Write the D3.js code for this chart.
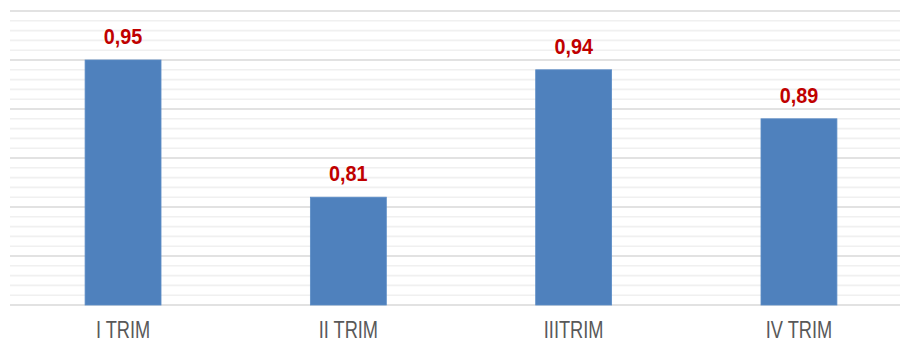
<!DOCTYPE html>
<html>
<head>
<meta charset="utf-8">
<script src="https://cdn.jsdelivr.net/npm/d3@7"></script>
<style>
  html, body { margin: 0; padding: 0; background: #ffffff; }
  svg { display: block; }
</style>
</head>
<body>
<svg id="chart" width="900" height="343"></svg>
<script>
// Quarterly values
const categories = ["I TRIM", "II TRIM", "IIITRIM", "IV TRIM"];
const values = [0.95, 0.81, 0.94, 0.89];
const valueLabels = ["0,95", "0,81", "0,94", "0,89"];

const W = 900, H = 343;
const svg = d3.select("#chart");

const plot = { left: 10.4, right: 911.6, top: 11, bottom: 305 };

const x = d3.scaleBand()
  .domain(categories)
  .range([plot.left, plot.right])
  .paddingInner(0.663)
  .paddingOuter(0.3315);

const y = d3.scaleLinear()
  .domain([0.70, 1.00])
  .range([plot.bottom, plot.top]);

// Minor gridlines every 0.01
const minorTicks = d3.range(70, 101, 1).map(d => d / 100).filter(d => Math.round(d * 100) % 5 !== 0);
svg.append("g")
  .selectAll("line")
  .data(minorTicks)
  .join("line")
  .attr("x1", 10).attr("x2", W)
  .attr("y1", d => y(d)).attr("y2", d => y(d))
  .attr("stroke", "#f0f0f0")
  .attr("stroke-width", 1.6);

// Major gridlines every 0.05
const majorTicks = d3.range(70, 101, 5).map(d => d / 100);
svg.append("g")
  .selectAll("line")
  .data(majorTicks)
  .join("line")
  .attr("x1", 10).attr("x2", W)
  .attr("y1", d => y(d)).attr("y2", d => y(d))
  .attr("stroke", "#d9d9d9")
  .attr("stroke-width", 1.6);

// Bars
svg.append("g")
  .selectAll("rect")
  .data(values)
  .join("rect")
  .attr("x", (d, i) => x(categories[i]))
  .attr("width", x.bandwidth())
  .attr("y", d => y(d))
  .attr("height", d => y(0.70) - y(d))
  .attr("fill", "#4f81bd")
  .attr("stroke", "#5b8cc6")
  .attr("stroke-width", 0.8);

// Value labels above bars
svg.append("g")
  .selectAll("text")
  .data(values)
  .join("text")
  .attr("transform", (d, i) => {
    const cx = x(categories[i]) + x.bandwidth() / 2;
    return `translate(${cx},${y(d) - 16}) scale(0.9,1)`;
  })
  .attr("text-anchor", "middle")
  .attr("font-family", "'Liberation Sans', Arial, sans-serif")
  .attr("font-weight", "bold")
  .attr("font-size", 22)
  .attr("fill", "#c00000")
  .text((d, i) => valueLabels[i]);

// Category labels
svg.append("g")
  .selectAll("text")
  .data(categories)
  .join("text")
  .attr("transform", d => `translate(${x(d) + x.bandwidth() / 2},338) scale(0.76,1)`)
  .attr("text-anchor", "middle")
  .attr("font-family", "'Liberation Sans', Arial, sans-serif")
  .attr("font-size", 24)
  .attr("fill", "#595959")
  .text(d => d);
</script>
</body>
</html>
